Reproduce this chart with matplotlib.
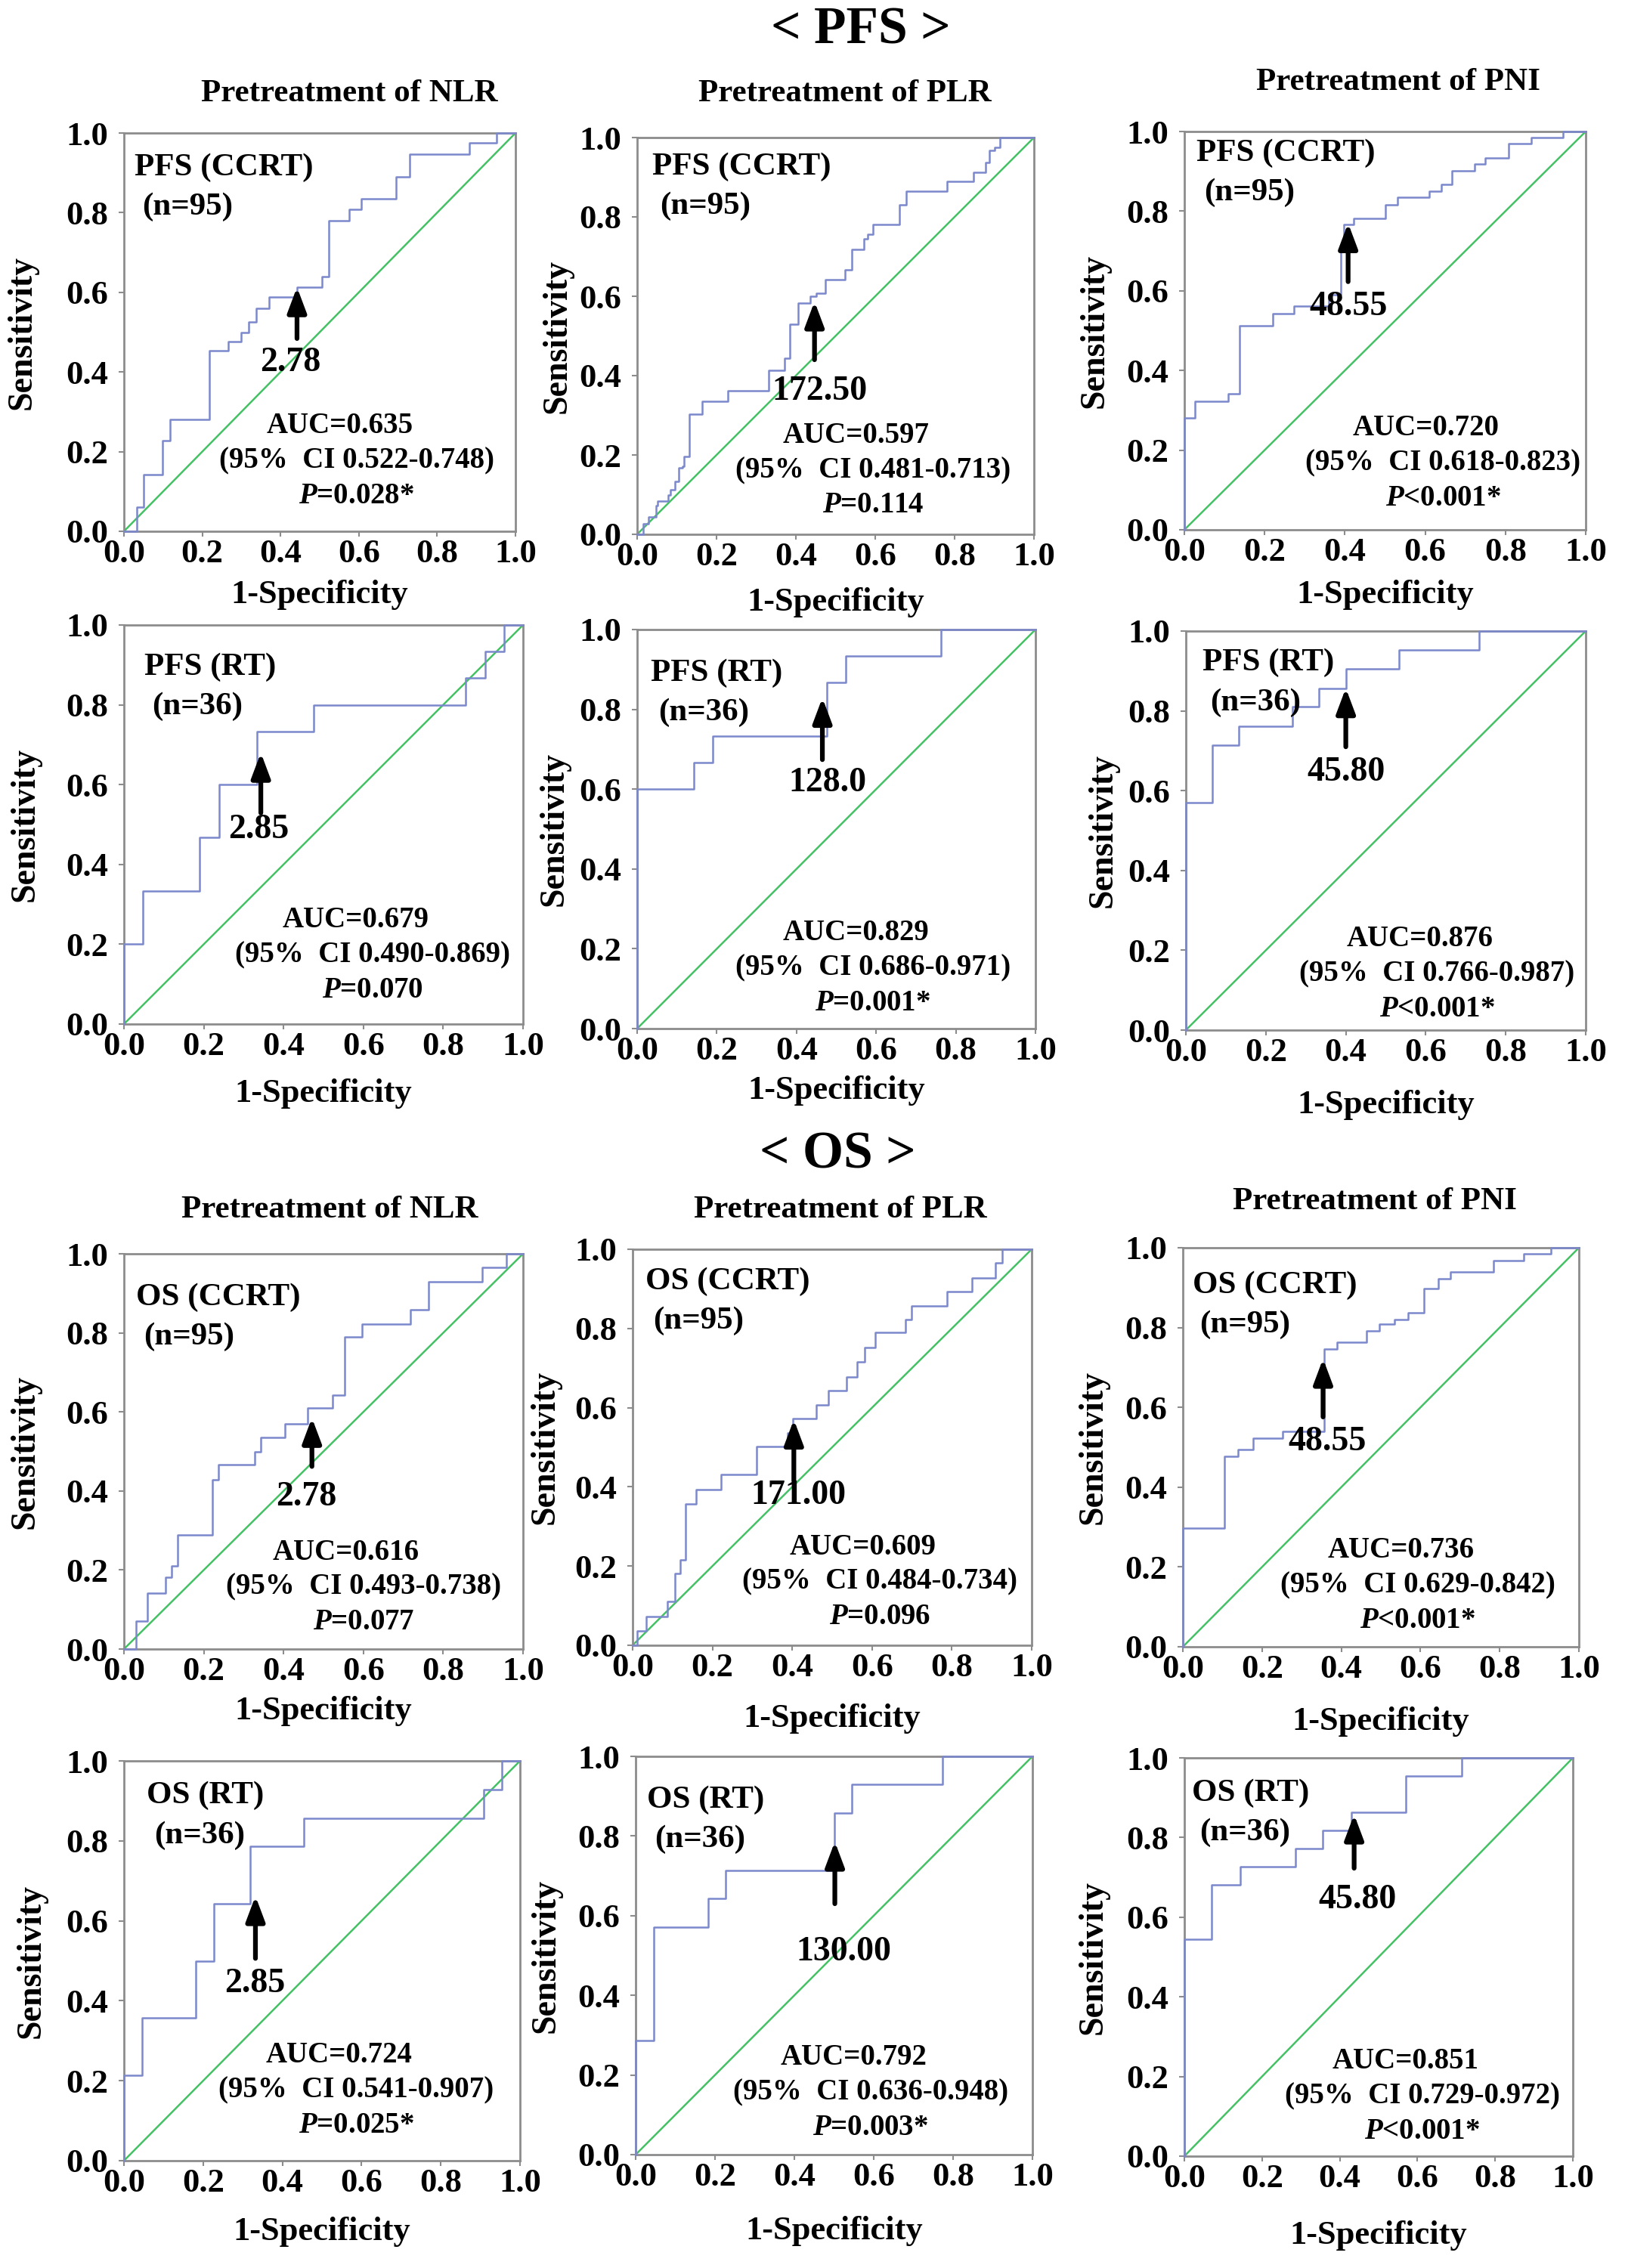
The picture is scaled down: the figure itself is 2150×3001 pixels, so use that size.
import numpy as np
import matplotlib
matplotlib.use("Agg")
import matplotlib.pyplot as plt

plt.rcParams['font.family'] = ['Liberation Serif', 'DejaVu Serif']
plt.rcParams['font.weight'] = 'bold'
plt.rcParams['mathtext.fontset'] = 'custom'
plt.rcParams['mathtext.rm'] = 'Liberation Serif:bold'
plt.rcParams['mathtext.it'] = 'Liberation Serif:italic:bold'
plt.rcParams['mathtext.bf'] = 'Liberation Serif:bold'

# ROC curves (1-specificity, sensitivity), one pair per panel
fpr_pfs_ccrt_nlr = [0, 0.033, 0.05, 0.099, 0.117, 0.218, 0.267, 0.30, 0.318, 0.337, 0.371, 0.442,
                    0.505, 0.523, 0.576, 0.607, 0.695, 0.73, 0.883, 0.951, 1.0]
tpr_pfs_ccrt_nlr = [0, 0.06, 0.143, 0.227, 0.28, 0.454, 0.476, 0.50, 0.525, 0.56, 0.588, 0.613,
                    0.64, 0.779, 0.808, 0.834, 0.89, 0.947, 0.975, 1.0, 1.0]

fpr_pfs_ccrt_plr = [0, 0.016, 0.029, 0.047, 0.052, 0.078, 0.083, 0.096, 0.105, 0.114, 0.118, 0.132,
                    0.163, 0.229, 0.332, 0.372, 0.385, 0.405, 0.436, 0.452, 0.474, 0.523, 0.540,
                    0.572, 0.580, 0.594, 0.660, 0.678, 0.780, 0.847, 0.878, 0.887, 0.900, 0.914, 1.0]
tpr_pfs_ccrt_plr = [0, 0.026, 0.043, 0.072, 0.084, 0.10, 0.113, 0.134, 0.167, 0.171, 0.196, 0.303,
                    0.336, 0.361, 0.414, 0.443, 0.530, 0.583, 0.600, 0.608, 0.641, 0.666, 0.719,
                    0.744, 0.757, 0.781, 0.831, 0.864, 0.889, 0.913, 0.938, 0.967, 0.975, 1.0, 1.0]

fpr_pfs_ccrt_pni = [0, 0, 0.026, 0.11, 0.138, 0.221, 0.274, 0.36, 0.389, 0.397, 0.421, 0.50, 0.531,
                    0.61, 0.64, 0.667, 0.724, 0.75, 0.807, 0.864, 0.943, 1.0]
tpr_pfs_ccrt_pni = [0, 0.28, 0.322, 0.341, 0.513, 0.543, 0.562, 0.590, 0.713, 0.766, 0.782, 0.815,
                    0.835, 0.851, 0.868, 0.902, 0.918, 0.933, 0.97, 0.984, 1.0, 1.0]

fpr_pfs_rt_nlr = [0, 0, 0.048, 0.190, 0.238, 0.333, 0.476, 0.857, 0.905, 0.952, 1.0]
tpr_pfs_rt_nlr = [0, 0.2, 0.333, 0.467, 0.6, 0.733, 0.8, 0.867, 0.933, 1.0, 1.0]

fpr_pfs_rt_plr = [0, 0, 0.143, 0.190, 0.476, 0.524, 0.762, 1.0]
tpr_pfs_rt_plr = [0, 0.6, 0.667, 0.733, 0.867, 0.933, 1.0, 1.0]

fpr_pfs_rt_pni = [0, 0, 0.067, 0.133, 0.267, 0.333, 0.4, 0.533, 0.733, 1.0]
tpr_pfs_rt_pni = [0, 0.571, 0.714, 0.762, 0.81, 0.857, 0.905, 0.952, 1.0, 1.0]

fpr_os_ccrt_nlr = [0, 0.031, 0.058, 0.104, 0.119, 0.135, 0.221, 0.236, 0.327, 0.342, 0.403, 0.46,
                   0.522, 0.553, 0.597, 0.717, 0.764, 0.898, 0.958, 1.0]
tpr_os_ccrt_nlr = [0, 0.071, 0.141, 0.181, 0.211, 0.288, 0.429, 0.466, 0.499, 0.536, 0.569, 0.61,
                   0.643, 0.789, 0.823, 0.858, 0.93, 0.965, 1.0, 1.0]

fpr_os_ccrt_plr = [0, 0.012, 0.034, 0.088, 0.106, 0.119, 0.133, 0.16, 0.222, 0.31, 0.388, 0.402,
                   0.46, 0.491, 0.536, 0.563, 0.581, 0.608, 0.684, 0.698, 0.787, 0.85, 0.909, 0.926, 1.0]
tpr_os_ccrt_plr = [0, 0.036, 0.073, 0.111, 0.182, 0.215, 0.357, 0.394, 0.432, 0.502, 0.536, 0.573,
                   0.607, 0.644, 0.678, 0.715, 0.752, 0.79, 0.822, 0.857, 0.894, 0.928, 0.965, 1.0, 1.0]

fpr_os_ccrt_pni = [0, 0, 0.105, 0.14, 0.177, 0.251, 0.356, 0.389, 0.464, 0.496, 0.534, 0.569,
                   0.608, 0.645, 0.676, 0.785, 0.86, 0.93, 1.0]
tpr_os_ccrt_pni = [0, 0.298, 0.478, 0.494, 0.522, 0.539, 0.747, 0.763, 0.792, 0.808, 0.82, 0.837,
                   0.898, 0.922, 0.94, 0.967, 0.984, 1.0, 1.0]

fpr_os_rt_nlr = [0, 0, 0.045, 0.182, 0.227, 0.318, 0.455, 0.909, 0.955, 1.0]
tpr_os_rt_nlr = [0, 0.214, 0.357, 0.5, 0.643, 0.786, 0.857, 0.929, 1.0, 1.0]

fpr_os_rt_plr = [0, 0, 0.045, 0.182, 0.227, 0.5, 0.545, 0.773, 1.0]
tpr_os_rt_plr = [0, 0.286, 0.571, 0.643, 0.714, 0.857, 0.929, 1.0, 1.0]

fpr_os_rt_pni = [0, 0, 0.071, 0.143, 0.286, 0.357, 0.429, 0.571, 0.714, 1.0]
tpr_os_rt_pni = [0, 0.545, 0.682, 0.727, 0.773, 0.818, 0.864, 0.955, 1.0, 1.0]

curves = [
    (fpr_pfs_ccrt_nlr, tpr_pfs_ccrt_nlr), (fpr_pfs_ccrt_plr, tpr_pfs_ccrt_plr), (fpr_pfs_ccrt_pni, tpr_pfs_ccrt_pni),
    (fpr_pfs_rt_nlr, tpr_pfs_rt_nlr), (fpr_pfs_rt_plr, tpr_pfs_rt_plr), (fpr_pfs_rt_pni, tpr_pfs_rt_pni),
    (fpr_os_ccrt_nlr, tpr_os_ccrt_nlr), (fpr_os_ccrt_plr, tpr_os_ccrt_plr), (fpr_os_ccrt_pni, tpr_os_ccrt_pni),
    (fpr_os_rt_nlr, tpr_os_rt_nlr), (fpr_os_rt_plr, tpr_os_rt_plr), (fpr_os_rt_pni, tpr_os_rt_pni),
]

groups = ["PFS (CCRT)"] * 3 + ["PFS (RT)"] * 3 + ["OS (CCRT)"] * 3 + ["OS (RT)"] * 3
n_labels = ["(n=95)"] * 3 + ["(n=36)"] * 3 + ["(n=95)"] * 3 + ["(n=36)"] * 3
auc = ["0.635", "0.597", "0.720", "0.679", "0.829", "0.876",
       "0.616", "0.609", "0.736", "0.724", "0.792", "0.851"]
ci_low = ["0.522", "0.481", "0.618", "0.490", "0.686", "0.766",
          "0.493", "0.484", "0.629", "0.541", "0.636", "0.729"]
ci_high = ["0.748", "0.713", "0.823", "0.869", "0.971", "0.987",
           "0.738", "0.734", "0.842", "0.907", "0.948", "0.972"]
p_text = ["=0.028*", "=0.114", "<0.001*", "=0.070", "=0.001*", "<0.001*",
          "=0.077", "=0.096", "<0.001*", "=0.025*", "=0.003*", "<0.001*"]
cutoffs = ["2.78", "172.50", "48.55", "2.85", "128.0", "45.80",
           "2.78", "171.00", "48.55", "2.85", "130.00", "45.80"]
# cut-off point on each curve (1-specificity, sensitivity)
cut_x = [0.442, 0.447, 0.408, 0.343, 0.465, 0.40, 0.471, 0.404, 0.354, 0.332, 0.502, 0.437]
cut_y = [0.613, 0.587, 0.77, 0.68, 0.829, 0.857, 0.585, 0.57, 0.722, 0.662, 0.786, 0.858]

col_titles = ["Pretreatment of NLR", "Pretreatment of PLR", "Pretreatment of PNI"]
section_titles = ["< PFS >", "< OS >"]

# ---- layout (pixels of the 2150 x 3001 picture) ----
W, H = 2150, 3001
# left, right, top, bottom of each plot frame
boxes = [
    (164, 682, 176, 703), (843, 1368, 182, 707), (1567, 2098, 174, 701),
    (164, 692, 827, 1355), (843, 1370, 833, 1361), (1569, 2098, 835, 1363),
    (164, 692, 1659, 2182), (837, 1365, 1653, 2177), (1565, 2089, 1651, 2179),
    (164, 688, 2330, 2859), (841, 1366, 2324, 2851), (1567, 2081, 2326, 2853),
]
xlab_off = [84, 90, 86, 92, 82, 99, 82, 97, 99, 94, 101, 105]
ylab_off = [134, 105, 118, 130, 109, 109, 130, 115, 118, 122, 118, 120]
# group label position (axes data units)
grp_pos = [(0.027, 0.914), (0.038, 0.926), (0.031, 0.945), (0.052, 0.894), (0.035, 0.891), (0.041, 0.92),
           (0.031, 0.889), (0.032, 0.919), (0.024, 0.906), (0.057, 0.913), (0.029, 0.89), (0.02, 0.911)]
# stats block: center x of the CI line, y of the AUC line
stat_pos = [(0.594, 0.264), (0.594, 0.249), (0.645, 0.255), (0.623, 0.261), (0.592, 0.240), (0.628, 0.228),
            (0.600, 0.244), (0.620, 0.248), (0.593, 0.241), (0.587, 0.264), (0.592, 0.243), (0.613, 0.238)]
# cut-off label centre and arrow tail
cut_lab = [(0.426, 0.423), (0.46, 0.36), (0.408, 0.56), (0.337, 0.487), (0.478, 0.616), (0.40, 0.646),
           (0.456, 0.384), (0.415, 0.378), (0.365, 0.514), (0.33, 0.442), (0.525, 0.508), (0.446, 0.644)]
arrow_tail = [0.484, 0.44, 0.623, 0.529, 0.674, 0.71, 0.462, 0.415, 0.576, 0.506, 0.63, 0.723]

title_pos = [(462, 124), (1118, 124), (1850, 109), (436, 1601), (1112, 1601), (1819, 1590)]
section_pos = [(1139, 40), (1108, 1529)]

curve_color = '#7b88cc'
diag_color = '#45c165'
frame_color = '#8c8c8c'

fig = plt.figure(figsize=(W / 100, H / 100), dpi=100)

for i, (l, r, t, b) in enumerate(boxes):
    ax = fig.add_axes([l / W, 1 - b / H, (r - l) / W, (b - t) / H])
    fx, fy = curves[i]
    ax.plot([0, 1], [0, 1], color=diag_color, lw=1.8, zorder=2)
    ax.plot(fx, fy, drawstyle='steps-post', color=curve_color, lw=1.8, zorder=3, clip_on=False)
    ax.set_xlim(0, 1)
    ax.set_ylim(0, 1)
    ticks = np.arange(0, 1.01, 0.2)
    ax.set_xticks(ticks)
    ax.set_yticks(ticks)
    ax.set_xticklabels([f"{v:.1f}" for v in ticks])
    ax.set_yticklabels([f"{v:.1f}" for v in ticks])
    ax.tick_params(direction='out', length=5, width=1.5, color=frame_color, labelsize=32)
    ax.tick_params(axis='x', pad=2)
    ax.tick_params(axis='y', pad=10)
    for s in ax.spines.values():
        s.set_color(frame_color)
        s.set_linewidth(2)

    hpx = b - t
    wpx = r - l
    ax.set_xlabel("1-Specificity", fontsize=32, fontweight='bold', va='center')
    ax.xaxis.set_label_coords(0.5, -xlab_off[i] / hpx)
    ax.set_ylabel("Sensitivity", fontsize=33, fontweight='bold', va='center')
    ax.yaxis.set_label_coords(-ylab_off[i] / wpx, 0.5)

    gx, gy = grp_pos[i]
    ax.text(gx, gy, groups[i], fontsize=31, ha='left', va='center')
    ax.text(gx + 0.019, gy - 0.099, n_labels[i], fontsize=31, ha='left', va='center')

    sx, sy = stat_pos[i]
    ax.text(sx - 0.043, sy, f"AUC={auc[i]}", fontsize=28, ha='center', va='center')
    ax.text(sx, sy - 0.088, f"(95%  CI {ci_low[i]}-{ci_high[i]})", fontsize=28, ha='center', va='center')
    ax.text(sx, sy - 0.176, r"$\mathit{P}$" + p_text[i], fontsize=28, ha='center', va='center')

    lx, ly = cut_lab[i]
    ax.text(lx, ly, cutoffs[i], fontsize=33, ha='center', va='center', zorder=5)
    ax.annotate("", xy=(cut_x[i], cut_y[i]), xytext=(cut_x[i], arrow_tail[i]),
                arrowprops=dict(arrowstyle='-|>,head_width=0.75,head_length=2.0',
                                color='black', lw=4.5, shrinkA=0, shrinkB=0),
                zorder=6)

for k, (x, y) in enumerate(title_pos):
    fig.text(x / W, 1 - y / H, col_titles[k % 3], fontsize=31, fontweight='bold',
             ha='center', va='center')
for k, (x, y) in enumerate(section_pos):
    fig.text(x / W, 1 - y / H, section_titles[k], fontsize=50, fontweight='bold',
             ha='center', va='center')

fig.savefig("out.png", dpi=100)
